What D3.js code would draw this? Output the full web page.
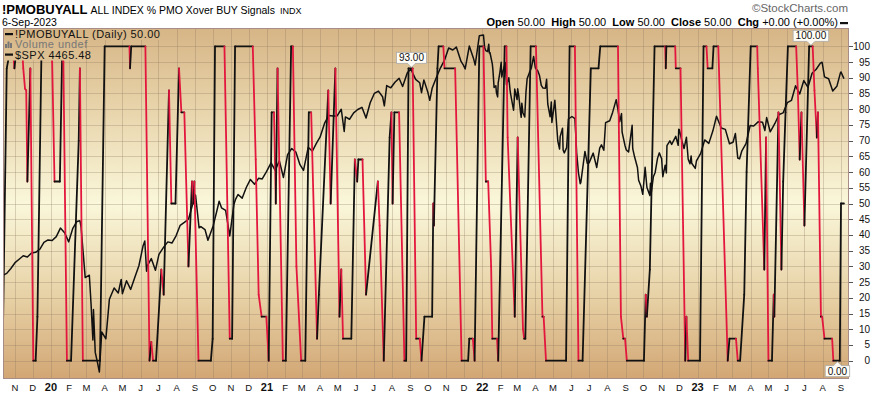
<!DOCTYPE html>
<html><head><meta charset="utf-8">
<script src="https://cdn.jsdelivr.net/npm/d3@7"></script>
<style>
html,body{margin:0;padding:0;background:#fff;}
svg{display:block;}
text{font-family:"Liberation Sans",Arial,sans-serif;}
</style></head>
<body>
<svg id="chart" width="876" height="394"></svg>
<script>
// ---------------- DATA ----------------
const pmoDates = ["2019-10-11","2019-10-18","2019-10-21","2019-10-28","2019-10-31","2019-11-04","2019-11-13","2019-11-15","2019-11-18","2019-11-20","2019-11-22","2019-11-27","2019-12-02","2019-12-06","2019-12-09","2019-12-16","2020-01-02","2020-01-03","2020-01-07","2020-01-16","2020-01-20","2020-01-22","2020-01-28","2020-02-04","2020-02-17","2020-02-19","2020-02-24","2020-03-24","2020-04-01","2020-05-13","2020-05-14","2020-05-16","2020-06-09","2020-06-16","2020-06-19","2020-06-22","2020-06-27","2020-07-06","2020-07-10","2020-07-19","2020-07-23","2020-07-30","2020-08-05","2020-08-09","2020-08-14","2020-08-21","2020-08-27","2020-08-29","2020-08-31","2020-09-07","2020-09-28","2020-10-01","2020-10-05","2020-10-21","2020-10-30","2020-11-03","2020-11-08","2020-12-08","2020-12-13","2020-12-18","2020-12-23","2020-12-31","2021-01-04","2021-01-09","2021-01-13","2021-01-16","2021-01-19","2021-01-28","2021-02-02","2021-02-11","2021-02-14","2021-02-20","2021-02-28","2021-03-07","2021-03-13","2021-03-17","2021-03-27","2021-03-30","2021-04-15","2021-04-19","2021-04-27","2021-05-04","2021-05-07","2021-05-10","2021-05-24","2021-05-30","2021-06-03","2021-06-05","2021-06-12","2021-06-18","2021-07-08","2021-07-11","2021-07-18","2021-07-28","2021-07-31","2021-08-02","2021-08-05","2021-08-13","2021-08-22","2021-08-25","2021-08-29","2021-09-05","2021-09-11","2021-09-17","2021-09-20","2021-09-25","2021-10-08","2021-10-10","2021-10-11","2021-10-17","2021-10-19","2021-10-27","2021-10-29","2021-11-16","2021-11-27","2021-12-08","2021-12-10","2021-12-16","2021-12-19","2021-12-27","2022-01-03","2022-01-07","2022-01-11","2022-01-16","2022-01-18","2022-01-26","2022-01-28","2022-02-08","2022-02-11","2022-02-13","2022-02-25","2022-03-02","2022-03-11","2022-03-13","2022-03-15","2022-03-24","2022-04-02","2022-04-13","2022-04-15","2022-04-19","2022-05-23","2022-05-29","2022-06-07","2022-06-13","2022-06-20","2022-07-04","2022-07-17","2022-07-20","2022-08-19","2022-08-24","2022-08-28","2022-08-31","2022-09-03","2022-10-02","2022-10-05","2022-10-07","2022-10-12","2022-10-20","2022-11-07","2022-11-08","2022-11-09","2022-11-24","2022-11-25","2022-12-03","2022-12-11","2022-12-13","2022-12-16","2023-01-05","2023-01-11","2023-01-16","2023-01-18","2023-01-26","2023-01-28","2023-02-05","2023-02-21","2023-02-24","2023-03-07","2023-03-10","2023-03-14","2023-03-21","2023-03-25","2023-04-01","2023-04-12","2023-04-13","2023-04-24","2023-04-27","2023-05-01","2023-05-07","2023-05-10","2023-05-11","2023-05-18","2023-05-23","2023-05-26","2023-05-30","2023-06-03","2023-06-17","2023-06-20","2023-06-23","2023-06-26","2023-07-01","2023-07-09","2023-07-15","2023-07-18","2023-07-22","2023-07-24","2023-07-29","2023-07-31","2023-08-04","2023-08-17","2023-08-19","2023-08-30","2023-09-01","2023-09-06"];
const pmoValues = [2,93,96,100,93,100,100,93,86.5,86,57,93,0,0,14,100,100,95,57,57,98,95,0,0,70,93,0,0,100,100,93,100,100,0,6,0,0,29,21,86,50,50,93,79,79,30,57,50,57,0,0,7,100,100,7,7,100,100,64,21,14,14,0,79,79,50,93,0,0,100,100,30,0,0,79,79,7,21,86,50,93,14,29,7,7,64,57,64,64,21,57,43,0,71,79,50,79,79,0,0,93,93,7,7,0,14,14,50,43,93,100,100,93,93,0,0,7,7,0,100,100,57,57,30,7,7,0,100,100,71,14,71,10,7,7,100,100,14,14,0,0,100,100,0,0,93,93,100,100,14,7,7,0,0,21,14,29,100,100,93,100,100,93,93,0,14,0,0,100,100,93,93,100,100,0,7,7,0,0,21,60,100,100,93,29,71,0,0,21,14,79,29,57,79,100,100,85,64,79,43,100,100,86,71,79,14,14,7,7,0,0,50,50];

const spxDates = ["2019-10-11","2019-10-18","2019-10-25","2019-11-01","2019-11-08","2019-11-15","2019-11-22","2019-11-29","2019-12-06","2019-12-13","2019-12-20","2019-12-27","2020-01-03","2020-01-10","2020-01-17","2020-01-24","2020-01-31","2020-02-07","2020-02-14","2020-02-19","2020-02-21","2020-02-28","2020-03-06","2020-03-09","2020-03-12","2020-03-13","2020-03-16","2020-03-20","2020-03-23","2020-03-27","2020-04-03","2020-04-09","2020-04-17","2020-04-24","2020-04-29","2020-05-01","2020-05-08","2020-05-15","2020-05-22","2020-05-29","2020-06-05","2020-06-08","2020-06-11","2020-06-12","2020-06-19","2020-06-26","2020-07-02","2020-07-10","2020-07-17","2020-07-24","2020-07-31","2020-08-07","2020-08-14","2020-08-21","2020-08-28","2020-09-02","2020-09-08","2020-09-11","2020-09-18","2020-09-23","2020-10-02","2020-10-09","2020-10-12","2020-10-16","2020-10-23","2020-10-30","2020-11-06","2020-11-09","2020-11-13","2020-11-20","2020-11-27","2020-12-04","2020-12-11","2020-12-18","2020-12-24","2020-12-31","2021-01-08","2021-01-15","2021-01-22","2021-01-29","2021-02-05","2021-02-12","2021-02-19","2021-02-26","2021-03-04","2021-03-12","2021-03-19","2021-03-26","2021-04-01","2021-04-09","2021-04-16","2021-04-23","2021-04-30","2021-05-07","2021-05-12","2021-05-14","2021-05-21","2021-05-28","2021-06-04","2021-06-11","2021-06-18","2021-06-25","2021-07-02","2021-07-09","2021-07-16","2021-07-19","2021-07-23","2021-07-30","2021-08-06","2021-08-13","2021-08-19","2021-08-27","2021-09-02","2021-09-10","2021-09-17","2021-09-20","2021-09-24","2021-10-01","2021-10-04","2021-10-08","2021-10-15","2021-10-22","2021-10-29","2021-11-05","2021-11-12","2021-11-18","2021-11-26","2021-11-30","2021-12-03","2021-12-10","2021-12-17","2021-12-20","2021-12-27","2022-01-03","2022-01-05","2022-01-07","2022-01-10","2022-01-12","2022-01-13","2022-01-14","2022-01-18","2022-01-19","2022-01-21","2022-01-24","2022-01-25","2022-01-27","2022-01-28","2022-01-31","2022-02-02","2022-02-03","2022-02-04","2022-02-09","2022-02-10","2022-02-11","2022-02-15","2022-02-17","2022-02-18","2022-02-23","2022-02-24","2022-02-25","2022-03-01","2022-03-02","2022-03-04","2022-03-07","2022-03-08","2022-03-09","2022-03-11","2022-03-14","2022-03-16","2022-03-18","2022-03-22","2022-03-25","2022-03-29","2022-04-01","2022-04-05","2022-04-08","2022-04-11","2022-04-14","2022-04-18","2022-04-20","2022-04-22","2022-04-26","2022-04-28","2022-04-29","2022-05-04","2022-05-09","2022-05-12","2022-05-13","2022-05-17","2022-05-18","2022-05-20","2022-05-24","2022-05-27","2022-06-02","2022-06-07","2022-06-10","2022-06-13","2022-06-16","2022-06-17","2022-06-24","2022-06-28","2022-07-01","2022-07-08","2022-07-14","2022-07-19","2022-07-22","2022-07-26","2022-07-29","2022-08-05","2022-08-10","2022-08-16","2022-08-19","2022-08-22","2022-08-25","2022-08-26","2022-08-31","2022-09-02","2022-09-06","2022-09-12","2022-09-13","2022-09-16","2022-09-21","2022-09-23","2022-09-27","2022-09-30","2022-10-04","2022-10-07","2022-10-12","2022-10-13","2022-10-14","2022-10-18","2022-10-21","2022-10-25","2022-10-28","2022-11-01","2022-11-03","2022-11-07","2022-11-09","2022-11-10","2022-11-15","2022-11-18","2022-11-25","2022-11-29","2022-11-30","2022-12-01","2022-12-05","2022-12-09","2022-12-13","2022-12-16","2022-12-19","2022-12-21","2022-12-22","2022-12-28","2022-12-30","2023-01-06","2023-01-13","2023-01-20","2023-01-27","2023-02-02","2023-02-10","2023-02-17","2023-02-24","2023-03-02","2023-03-06","2023-03-10","2023-03-13","2023-03-17","2023-03-24","2023-03-31","2023-04-06","2023-04-14","2023-04-21","2023-04-25","2023-04-28","2023-05-04","2023-05-12","2023-05-19","2023-05-26","2023-06-02","2023-06-09","2023-06-16","2023-06-23","2023-06-30","2023-07-07","2023-07-14","2023-07-21","2023-07-28","2023-07-31","2023-08-04","2023-08-11","2023-08-18","2023-08-25","2023-08-31","2023-09-01","2023-09-06"];
const spxValues = [2970,2986,3023,3067,3093,3120,3110,3141,3146,3169,3221,3240,3235,3265,3330,3295,3225,3328,3380,3386,3337,2954,2972,2746,2480,2711,2386,2305,2237,2541,2489,2790,2875,2837,2940,2831,2930,2864,2955,3044,3194,3232,3002,3041,3098,3009,3130,3185,3225,3216,3271,3351,3373,3397,3508,3580,3332,3341,3319,3237,3348,3477,3534,3484,3465,3270,3509,3550,3585,3557,3638,3699,3663,3709,3703,3756,3825,3768,3841,3714,3887,3934,3907,3811,3768,3943,3913,3975,4020,4129,4185,4180,4181,4232,4063,4174,4156,4204,4230,4247,4166,4281,4352,4370,4327,4258,4412,4395,4437,4468,4405,4509,4537,4459,4433,4358,4455,4357,4300,4391,4471,4545,4605,4697,4682,4704,4595,4567,4538,4712,4620,4568,4791,4796,4700,4677,4670,4726,4659,4663,4577,4533,4398,4410,4357,4326,4432,4516,4589,4477,4501,4587,4504,4419,4471,4380,4349,4225,4288,4385,4306,4387,4329,4201,4171,4278,4204,4173,4358,4463,4512,4543,4632,4546,4525,4488,4413,4393,4392,4460,4272,4175,4288,4132,4300,3991,3930,4024,4088,3923,3901,3941,4158,4177,4161,3901,3750,3667,3675,3912,3821,3825,3899,3790,3937,3962,3921,4130,4145,4210,4305,4228,4138,4199,4058,3955,3924,3908,4110,3933,3873,3790,3693,3647,3586,3791,3640,3577,3670,3583,3720,3752,3859,3901,3856,3720,3807,3749,3956,3992,3965,4026,3958,4080,4077,3998,3934,4019,3852,3818,3878,3822,3783,3840,3895,3999,3973,4070,4179,4090,4079,3970,3982,4048,3862,3855,3917,3971,4109,4105,4138,4133,4071,4169,4061,4124,4192,4205,4282,4299,4410,4348,4450,4399,4505,4536,4582,4589,4478,4464,4370,4406,4508,4515,4465];

const yTicks = [0,5,10,15,20,25,30,35,40,45,50,55,60,65,70,75,80,85,90,95,100];
const monthLabels = ["N","D","20","F","M","A","M","J","J","A","S","O","N","D","21","F","M","A","M","J","J","A","S","O","N","D","22","F","M","A","M","J","J","A","S","O","N","D","23","F","M","A","M","J","J","A","S"];
const annotations = [
  {date:"2021-09-03", value:93, label:"93.00", below:false},
  {date:"2023-07-12", value:100, label:"100.00", below:false},
  {date:"2023-08-26", value:0, label:"0.00", below:true}
];
const titleSymbol = "!PMOBUYALL", titleName = "ALL INDEX % PMO Xover BUY Signals", titleExch = "INDX";
const dateLabel = "6-Sep-2023";
const ohlc = [["Open","50.00"],["High","50.00"],["Low","50.00"],["Close","50.00"],["Chg","+0.00 (+0.00%)"]];
const legendPmo = "!PMOBUYALL (Daily) 50.00", legendVol = "Volume undef", legendSpx = "$SPX 4465.48";

// ---------------- DRAW ----------------
const parse = d3.timeParse("%Y-%m-%d");
const svg = d3.select("#chart");
const P = {l:3, r:849, t:28.5, b:378.5};

const x = d3.scaleTime().domain([parse("2019-11-01"), parse("2023-09-01")]).range([15, 841]);
const y = d3.scaleLinear().domain([0,100]).range([360.7, 46.3]);
const spxExt = d3.extent(spxValues);
const ySpx = d3.scaleLinear().domain(spxExt).range([y(-3.6), y(103.6)]);

const defs = svg.append("defs");
const g = defs.append("linearGradient").attr("id","bg").attr("gradientUnits","userSpaceOnUse")
  .attr("x1",0).attr("y1",P.t).attr("x2",0).attr("y2",P.b);
[[0,"#d6b586"],[0.2,"#e6d0a6"],[0.5,"#faf7da"],[0.78,"#e6cfa3"],[1,"#d2a674"]].forEach(s=>g.append("stop").attr("offset",s[0]).attr("stop-color",s[1]));
defs.append("clipPath").attr("id","clip").append("rect").attr("x",P.l).attr("y",P.t).attr("width",P.r-P.l).attr("height",P.b-P.t);

svg.append("rect").attr("x",P.l).attr("y",P.t).attr("width",P.r-P.l).attr("height",P.b-P.t).attr("fill","url(#bg)");

// grid
const grid = svg.append("g").attr("clip-path","url(#clip)");
grid.selectAll("line.h").data(yTicks).join("line")
  .attr("x1",P.l).attr("x2",P.r).attr("y1",d=>Math.round(y(d))+0.5).attr("y2",d=>Math.round(y(d))+0.5)
  .attr("stroke","#8a7660").attr("stroke-opacity",0.3);
const months = d3.timeMonth.range(parse("2019-11-01"), parse("2023-09-02"));
grid.selectAll("line.v").data(months).join("line")
  .attr("y1",P.t).attr("y2",P.b).attr("x1",d=>Math.round(x(d))+0.5).attr("x2",d=>Math.round(x(d))+0.5)
  .attr("stroke","#8a7660").attr("stroke-opacity",0.3);

const plot = svg.append("g").attr("clip-path","url(#clip)");
// SPX
const spxData = spxDates.map((d,i)=>({d:parse(d), v:spxValues[i]}));
plot.append("path").datum(spxData)
  .attr("d", d3.line().x(d=>x(d.d)).y(d=>ySpx(d.v)))
  .attr("fill","none").attr("stroke","#111").attr("stroke-width",1.5).attr("stroke-linejoin","round");

// PMO up/down colored
const pmo = pmoDates.map((d,i)=>({d:parse(d), v:pmoValues[i]}));
const segs = d3.pairs(pmo);
plot.selectAll("line.pmo").data(segs).join("line")
  .attr("x1",s=>x(s[0].d)).attr("y1",s=>y(s[0].v)).attr("x2",s=>x(s[1].d)).attr("y2",s=>y(s[1].v))
  .attr("stroke",s=>s[1].v < s[0].v ? "#e3173e" : "#111")
  .attr("stroke-width",1.8).attr("stroke-linecap","round");

// legend masks (legend sits on an opaque patch of the plot background)
[[P.l,P.t,165-P.l,11.5],[P.l,P.t+11.5,80-P.l,20.5]].forEach(r=>
  svg.append("rect").attr("x",r[0]).attr("y",r[1]).attr("width",r[2]).attr("height",r[3]).attr("fill","url(#bg)"));

// border
svg.append("rect").attr("x",P.l+0.5).attr("y",P.t).attr("width",P.r-P.l-1).attr("height",P.b-P.t)
  .attr("fill","none").attr("stroke","#a88c88").attr("stroke-width",1);

// right axis
const ax = svg.append("g");
ax.selectAll("line").data(yTicks).join("line")
  .attr("x1",P.r).attr("x2",P.r+4).attr("y1",d=>Math.round(y(d))+0.5).attr("y2",d=>Math.round(y(d))+0.5)
  .attr("stroke","#555");
ax.selectAll("text").data(yTicks).join("text")
  .attr("x",870).attr("y",d=>y(d)+3.5).attr("text-anchor","end")
  .attr("font-size","10px").attr("fill","#111").text(d=>d);

// x axis labels
svg.selectAll("text.mon").data(months).join("text")
  .attr("x",d=>x(d)).attr("y",391).attr("text-anchor","middle")
  .attr("font-size",(d,i)=>monthLabels[i].length>1?"11px":"9.5px")
  .attr("font-weight",(d,i)=>monthLabels[i].length>1?"bold":"normal")
  .attr("fill","#111").text((d,i)=>monthLabels[i]);

// title
svg.append("text").attr("x",2).attr("y",14).attr("font-size","13px").attr("font-weight","bold").text(titleSymbol);
svg.append("text").attr("x",90.5).attr("y",13.5).attr("font-size","10.5px").text(titleName);
svg.append("text").attr("x",280).attr("y",13.5).attr("font-size","9px").text(titleExch);
svg.append("text").attr("x",2).attr("y",25.5).attr("font-size","10.5px").text(dateLabel);
svg.append("text").attr("x",848).attr("y",12).attr("text-anchor","end").attr("font-size","11.5px").attr("fill","#666").text("\u00A9StockCharts.com");

const oh = svg.append("text").attr("x",838).attr("y",26).attr("text-anchor","end").attr("font-size","11px").attr("xml:space","preserve");
ohlc.forEach((p,i)=>{
  oh.append("tspan").attr("font-weight","bold").text((i?"  ":"")+p[0]+" ");
  oh.append("tspan").text(p[1]);
});
svg.append("rect").attr("x",840).attr("y",22).attr("width",8).attr("height",2.2).attr("fill","#111");

// legend
const lg = svg.append("g").attr("font-family","DejaVu Sans, Verdana, sans-serif").attr("font-size","11px").attr("letter-spacing","0.45px");
lg.append("rect").attr("x",5).attr("y",33).attr("width",8).attr("height",2.2).attr("fill","#111");
lg.append("text").attr("x",15).attr("y",37.5).attr("fill","#111").text(legendPmo);
[[5,44,2,4],[7.5,41.5,2,6.5],[10,43,2,5]].forEach(r=>lg.append("rect").attr("x",r[0]).attr("y",r[1]).attr("width",r[2]).attr("height",r[3]).attr("fill","#777"));
lg.append("text").attr("x",15).attr("y",48).attr("fill","#777").text(legendVol);
lg.append("rect").attr("x",5).attr("y",53.5).attr("width",8).attr("height",2.2).attr("fill","#111");
lg.append("text").attr("x",15).attr("y",58.5).attr("fill","#111").text(legendSpx);

// annotations
annotations.forEach(a=>{
  const px = x(parse(a.date)), py = y(a.value);
  const ag = svg.append("g");
  const t = ag.append("text").attr("font-size","10px").attr("text-anchor","middle").attr("fill","#111").text(a.label);
  const w = t.node().getComputedTextLength()+5, h = 11;
  let bx = px - w/2, by;
  if (a.below){ by = py + 5; bx = Math.min(bx, 850 - w); }
  else { by = py - 5 - h; }
  const tip = a.below ? [[px-4,by],[px,py+1],[px+4,by]] : [[px-4,by+h],[px,py-1],[px+4,by+h]];
  ag.insert("rect","text").attr("x",bx).attr("y",by).attr("width",w).attr("height",h).attr("fill","#fffdf6").attr("stroke","#aaa").attr("stroke-width",0.8);
  ag.insert("path","text").attr("d",d3.line()(tip)).attr("fill","#fffdf6").attr("stroke","#aaa").attr("stroke-width",0.8);
  ag.insert("rect","text").attr("x",px-3.5).attr("y",a.below?by-0.2:by+h-0.8).attr("width",7).attr("height",1.2).attr("fill","#fffdf6");
  t.attr("x",bx+w/2).attr("y",by+h-2);
});
</script>
</body></html>
